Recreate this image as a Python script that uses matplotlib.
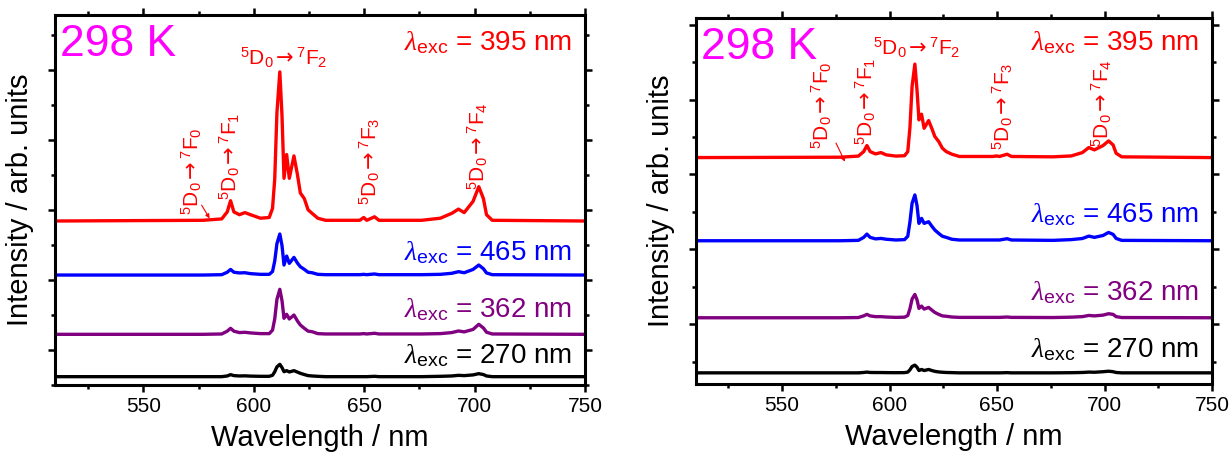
import matplotlib
matplotlib.use("Agg")
import matplotlib.pyplot as plt
from matplotlib.ticker import MultipleLocator

plt.rcParams['font.family'] = ['Liberation Sans', 'DejaVu Sans']
plt.rcParams['mathtext.fontset'] = 'custom'
plt.rcParams['mathtext.rm'] = 'Liberation Sans'
plt.rcParams['mathtext.it'] = 'Liberation Serif:italic'
plt.rcParams['mathtext.sf'] = 'DejaVu Sans'

# wavelength grid (nm)
wl = [510, 577, 585.5, 588, 589.5, 591, 593.5, 596, 598.5, 603, 607, 608.5, 609.5,
      610.5, 611.8, 612.8, 613.7, 614.9, 616.1, 618.2, 619.8, 621.1, 622.9, 624.6,
      626.4, 629, 632.5, 648, 649.8, 651.2, 654.7, 656.7, 676, 684.5, 689.7, 692.7,
      695.3, 699.3, 701.9, 704, 705.4, 708, 750]

# left panel: intensity above each baseline
left_395 = [0, 0.01, 0.03, 0.13, 0.29, 0.13, 0.09, 0.12, 0.09, 0.04, 0.05, 0.18, 0.6,
            1.55, 2.13, 1.5, 0.61, 0.95, 0.61, 0.93, 0.66, 0.40, 0.32, 0.16, 0.11, 0.04,
            0.01, 0.01, 0.05, 0.01, 0.06, 0.01, 0.01, 0.04, 0.11, 0.17, 0.12, 0.28, 0.49,
            0.32, 0.09, 0.01, 0]
left_465 = [0, 0, 0.005, 0.04, 0.08, 0.04, 0.03, 0.033, 0.02, 0.01, 0.01, 0.05, 0.2,
            0.45, 0.586, 0.42, 0.143, 0.271, 0.167, 0.252, 0.17, 0.119, 0.081, 0.04,
            0.033, 0.01, 0.005, 0.005, 0.01, 0.005, 0.015, 0.005, 0.005, 0.01, 0.025,
            0.048, 0.033, 0.08, 0.143, 0.09, 0.03, 0.005, 0]
left_362 = [0, 0, 0.005, 0.045, 0.086, 0.045, 0.025, 0.029, 0.02, 0.01, 0.01, 0.06, 0.22,
            0.5, 0.643, 0.48, 0.229, 0.286, 0.219, 0.276, 0.19, 0.133, 0.086, 0.045,
            0.038, 0.01, 0.005, 0.005, 0.01, 0.005, 0.015, 0.005, 0.005, 0.01, 0.025,
            0.048, 0.035, 0.07, 0.143, 0.09, 0.03, 0.005, 0]
left_270 = [0, 0, 0, 0.01, 0.029, 0.015, 0.01, 0.012, 0.008, 0.005, 0.005, 0.02, 0.07,
            0.14, 0.176, 0.13, 0.071, 0.086, 0.067, 0.086, 0.065, 0.048, 0.03, 0.015,
            0.01, 0.005, 0, 0, 0, 0, 0.005, 0, 0, 0.005, 0.01, 0.019, 0.015, 0.025,
            0.043, 0.03, 0.01, 0, 0]
left_base = [1.843, 1.071, 0.224, -0.381]

# right panel
right_395 = [0, 0.005, 0.02, 0.08, 0.161, 0.08, 0.049, 0.067, 0.036, 0.02, 0.025, 0.08,
             0.4, 0.95, 1.249, 0.9, 0.504, 0.58, 0.392, 0.495, 0.38, 0.281, 0.214, 0.125,
             0.08, 0.045, 0.015, 0.015, 0.022, 0.015, 0.045, 0.015, 0.01, 0.022, 0.067,
             0.134, 0.103, 0.16, 0.223, 0.169, 0.058, 0.01, 0]
right_465 = [0, 0, 0.005, 0.045, 0.089, 0.045, 0.025, 0.031, 0.02, 0.01, 0.015, 0.06,
             0.25, 0.5, 0.612, 0.47, 0.232, 0.299, 0.232, 0.254, 0.19, 0.143, 0.098, 0.06,
             0.045, 0.02, 0.01, 0.01, 0.01, 0.01, 0.027, 0.01, 0.005, 0.015, 0.03, 0.062,
             0.045, 0.07, 0.111, 0.085, 0.031, 0.005, 0]
right_362 = [0, 0, 0.003, 0.025, 0.045, 0.025, 0.015, 0.015, 0.01, 0.005, 0.008, 0.03,
             0.12, 0.25, 0.312, 0.24, 0.125, 0.156, 0.116, 0.138, 0.1, 0.071, 0.045,
             0.025, 0.02, 0.01, 0.005, 0.005, 0.005, 0.005, 0.01, 0.005, 0.003, 0.008,
             0.015, 0.031, 0.025, 0.035, 0.054, 0.045, 0.015, 0.003, 0]
right_270 = [0, 0, 0, 0.005, 0.01, 0.005, 0.004, 0.004, 0.003, 0.002, 0.003, 0.01, 0.04,
             0.085, 0.103, 0.075, 0.031, 0.045, 0.031, 0.045, 0.03, 0.02, 0.012, 0.008,
             0.005, 0.003, 0, 0, 0, 0, 0.003, 0, 0, 0.002, 0.005, 0.01, 0.008, 0.015,
             0.022, 0.015, 0.005, 0, 0]
right_base = [2.225, 1.114, 0.085, -0.651]

exc_labels = ['395', '465', '362', '270']
colors = ['#ff0000', '#0000ff', '#800080', '#000000']
transitions = ['0', '1', '2', '3', '4']

# label positions (x nm, y) per panel
left_exc_y = [4.29, 1.29, 0.476, -0.19]
right_exc_y = [3.656, 1.369, 0.321, -0.437]
left_tr = [(572, 1.93), (589.4, 2.14), (613.7, 4.07), (652.4, 2.07), (701.4, 2.29)]
right_tr = [(568.7, 2.34), (589.1, 2.39), (612.5, 3.60), (652.7, 2.33), (699, 2.37)]
left_arrow = [(576.4, 2.07), (580, 1.88)]
right_arrow = [(575.1, 2.42), (579.3, 2.17)]

fig = plt.figure(figsize=(12.32, 4.58), dpi=100)
axL = fig.add_axes([55 / 1232, 73 / 458, 530 / 1232, 370 / 458])
axR = fig.add_axes([696 / 1232, 74 / 458, 516 / 1232, 366 / 458])


def draw(ax, curves, base, exc_y, tr, arrow, ylim):
    for ys, b, c in zip(curves, base, colors):
        ax.plot(wl, [v + b for v in ys], color=c, lw=2.4, solid_joinstyle='round')
    for lab, y, c in zip(exc_labels, exc_y, colors):
        ax.text(744, y, r'$\lambda_{\mathrm{exc}}$ = ' + lab + ' nm', color=c,
                fontsize=20, ha='right', va='baseline')
    for i, (x, y) in enumerate(tr):
        s = r'$^5$D$_0$$\mathsf{\rightarrow}$$^7$F$_' + transitions[i] + '$'
        if i == 2:
            ax.text(x, y, s, color='red', fontsize=15, ha='center', va='baseline')
        else:
            ax.text(x, y, s, color='red', fontsize=15, ha='center', va='bottom',
                    rotation=90)
    ax.annotate('', xy=arrow[1], xytext=arrow[0],
                arrowprops=dict(arrowstyle='-|>', color='red', lw=0.8,
                                mutation_scale=6, shrinkA=0, shrinkB=0))
    ax.text(0.01, 0.975, '298 K', color='#ff00ff', fontsize=32,
            transform=ax.transAxes, ha='left', va='top')
    ax.set_xlim(510, 750)
    ax.set_ylim(*ylim)
    ax.xaxis.set_major_locator(MultipleLocator(50))
    ax.xaxis.set_minor_locator(MultipleLocator(25))
    ax.yaxis.set_major_locator(MultipleLocator(1))
    ax.yaxis.set_minor_locator(MultipleLocator(0.5))
    ax.tick_params(which='both', direction='out', top=True, right=True, width=1.8,
                   labelleft=False, labelsize=15)
    ax.tick_params(which='major', length=5)
    ax.tick_params(which='minor', length=3)
    for sp in ax.spines.values():
        sp.set_linewidth(2.2)
    ax.set_xlabel('Wavelength / nm', fontsize=21, labelpad=6)
    ax.set_ylabel('Intensity / arb. units', fontsize=21, labelpad=10)


draw(axL, [left_395, left_465, left_362, left_270], left_base, left_exc_y,
     left_tr, left_arrow, (-0.5, 4.786))
draw(axR, [right_395, right_465, right_362, right_270], right_base, right_exc_y,
     right_tr, right_arrow, (-0.80, 4.09))

fig.savefig('out.png', dpi=100)
